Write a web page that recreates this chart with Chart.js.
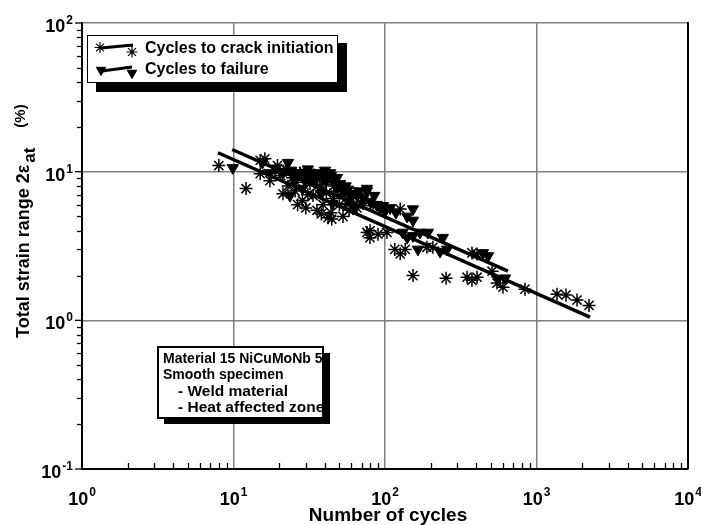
<!DOCTYPE html>
<html><head><meta charset="utf-8">
<script src="https://cdn.jsdelivr.net/npm/chart.js@4/dist/chart.umd.min.js"></script>
<style>html,body{margin:0;padding:0;background:#fff}canvas{display:block}</style>
</head><body>
<canvas id="c" width="701" height="525"></canvas>
<script>
// ---- data ----
const ciCycles = [8.0,12.1,15.0,16.1,15.0,17.4,18.8,20.5,21.2,22.9,24.5,25.5,27.5,28.5,30.5,30.0,32.0,33.5,35.6,37.2,40.2,42.1,44.5,45.4,48.2,52.8,56.1,60.0,65.3,70.0,83.4,76.0,79.6,79.6,89.9,103,116,126,136,126,153,189,207,253,348,375,405,375,405,509,549,601,839,1365,1566,1851,2222,
  19.5,22.0,26.0,29.0,31.0,34.0,36.0,39.0,41.0,46.0,50.0,54.0,58.0,44.0,38.0,26.5];
const ciStrain = [11.0,7.7,11.9,12.2,9.7,8.7,10.2,9.4,7.1,8.0,9.1,7.4,9.8,6.4,9.1,5.7,8.3,6.9,5.5,7.8,8.7,4.9,4.8,6.6,7.4,5.0,6.1,6.6,5.7,6.9,5.9,3.9,4.0,3.6,3.8,3.9,3.0,2.8,3.0,5.6,2.0,3.1,3.1,1.92,1.95,1.86,1.95,2.84,2.79,2.14,1.78,1.67,1.62,1.50,1.48,1.37,1.26,
  11.0,10.5,8.5,10.0,7.0,9.5,8.0,6.0,7.2,8.0,6.0,7.0,5.5,5.3,5.2,6.0];
const tfCycles = [9.9,15.5,17.4,21.2,22.9,23.6,25.5,27.5,29.6,30.5,32.0,34.5,35.6,37.2,40.2,42.1,43.4,45.4,48.2,50.5,52.8,58.7,61.5,65.3,71.6,63.4,76.0,76.0,85.0,92.7,108,140,153,153,131,140,153,170,165,192,241,231,257,443,479,557,620,28.5,38.0,45.0,
  19.0,24.0,26.5,31.0,33.5,39.0,41.0,44.0,47.0,55.0,57.0,67.0,72.0,80.0,88.0,97.0,100,118];
const tfStrain = [10.6,11.5,9.8,9.8,11.5,6.9,8.7,9.8,8.7,9.4,9.8,8.7,9.4,9.8,10.2,9.4,9.8,8.7,9.1,8.3,7.4,7.1,7.1,6.9,6.1,5.7,7.4,7.7,6.9,5.7,5.7,5.0,5.6,4.7,3.9,3.6,3.7,3.9,3.0,3.9,3.6,2.9,3.0,2.84,2.71,1.89,1.92,7.7,7.1,6.1,
  10.5,10.2,9.4,10.4,9.1,9.1,8.7,9.4,8.0,8.0,7.6,7.4,6.6,6.3,6.0,5.9,5.4,5.3];
const ciFitCycles = [7.9, 2255];
const ciFitStrain = [13.4, 1.05];
const tfFitCycles = [9.8, 648];
const tfFitStrain = [14.1, 2.14];
const xTickExponents = ['0','1','2','3','4'];
const yTickExponents = ['-1','0','1','2'];
const legendLabels = ['Cycles to crack initiation','Cycles to failure'];
const noteLines = ['Material 15 NiCuMoNb 5','Smooth specimen','- Weld material','- Heat affected zone'];
const xTitle = 'Number of cycles';
const yTitleMain = 'Total strain range 2\u03B5';
const yTitleSub = 'at';
const yTitleUnit = '(%)';

const FONT = '"Liberation Sans", Arial, Helvetica, sans-serif';
const pts = (xs, ys) => xs.map((x, i) => ({x, y: ys[i]}));
const isMajor = v => Math.abs(Math.log10(v) - Math.round(Math.log10(v))) < 1e-9;

function line(ctx, x1, y1, x2, y2){ ctx.beginPath(); ctx.moveTo(x1,y1); ctx.lineTo(x2,y2); ctx.stroke(); }

const deco = {
  id: 'deco',
  afterDraw(chart){
    const ctx = chart.ctx, xs = chart.scales.x, ys = chart.scales.y, a = chart.chartArea;
    const H = Chart.helpers;
    ctx.save();
    ctx.strokeStyle = '#000'; ctx.fillStyle = '#000';
    // right border
    ctx.lineWidth = 2;
    line(ctx, a.right, a.top - 1, a.right, a.bottom);
    // minor ticks
    ctx.lineWidth = 1.3;
    for (let d = 0; d < 4; d++) for (let m = 2; m <= 9; m++) {
      const px = Math.round(xs.getPixelForValue(m * Math.pow(10, d))) + 0.5;
      line(ctx, px, a.bottom, px, a.bottom - 6);
    }
    for (let d = -1; d < 2; d++) for (let m = 2; m <= 9; m++) {
      const py = Math.round(ys.getPixelForValue(m * Math.pow(10, d))) + 0.5;
      line(ctx, a.left - 5, py, a.left, py);
    }
    yTickExponents.forEach(e => {
      const py = ys.getPixelForValue(Math.pow(10, +e));
      line(ctx, a.left - 7, py, a.left, py);
    });
    // x tick labels
    ctx.textBaseline = 'alphabetic';
    xTickExponents.forEach(e => {
      const px = xs.getPixelForValue(Math.pow(10, +e));
      ctx.font = 'bold 18px ' + FONT; const w1 = ctx.measureText('10').width;
      ctx.font = 'bold 12px ' + FONT; const w2 = ctx.measureText(e).width;
      const x0 = px - (w1 + w2 + 1) / 2;
      ctx.font = 'bold 18px ' + FONT; ctx.textAlign = 'left';
      ctx.fillText('10', x0, a.bottom + 36);
      ctx.font = 'bold 12px ' + FONT;
      ctx.fillText(e, x0 + w1 + 1, a.bottom + 27);
    });
    // y tick labels
    yTickExponents.forEach(e => {
      const py = ys.getPixelForValue(Math.pow(10, +e));
      ctx.font = 'bold 12px ' + FONT; const w2 = ctx.measureText(e).width;
      ctx.font = 'bold 18px ' + FONT; const w1 = ctx.measureText('10').width;
      const xr = 73;
      ctx.textAlign = 'left';
      ctx.fillText('10', xr - w2 - 1 - w1, py + 9);
      ctx.font = 'bold 12px ' + FONT;
      ctx.fillText(e, xr - w2, py + 1);
    });
    // x title
    ctx.font = 'bold 19px ' + FONT; ctx.textAlign = 'center';
    ctx.fillText(xTitle, (a.left + a.right) / 2 + 3, 521);
    // y title (rotated)
    ctx.save();
    ctx.translate(29, 338); ctx.rotate(-Math.PI / 2);
    ctx.textAlign = 'left';
    ctx.font = 'bold 18px ' + FONT;
    const wm = ctx.measureText(yTitleMain).width;
    ctx.fillText(yTitleMain, 0, 0);
    ctx.font = 'bold 17px ' + FONT;
    const ws = ctx.measureText(yTitleSub).width;
    ctx.fillText(yTitleSub, wm + 2, 6);
    ctx.font = 'bold 15px ' + FONT;
    ctx.fillText(yTitleUnit, wm + ws + 22, -4);
    ctx.restore();

    // legend box with shadow
    ctx.fillStyle = '#000'; ctx.fillRect(96, 43, 251, 49);
    ctx.fillStyle = '#fff'; ctx.fillRect(87, 35, 250, 47);
    ctx.lineWidth = 1; ctx.strokeStyle = '#000';
    ctx.strokeRect(87.5, 35.5, 250, 47);
    ctx.fillStyle = '#000';
    ctx.lineWidth = 3;
    line(ctx, 101, 48, 133, 45);
    line(ctx, 102, 71, 132, 67);
    ctx.lineWidth = 1.2;
    H.drawPoint(ctx, {pointStyle: 'star', radius: 5.5, rotation: 0, borderWidth: 1.2}, 100, 47.5);
    H.drawPoint(ctx, {pointStyle: 'star', radius: 5.5, rotation: 0, borderWidth: 1.2}, 132, 52);
    ctx.lineWidth = 1;
    H.drawPoint(ctx, {pointStyle: 'triangle', radius: 5.5, rotation: 180, borderWidth: 1}, 101, 70);
    H.drawPoint(ctx, {pointStyle: 'triangle', radius: 5.5, rotation: 180, borderWidth: 1}, 132, 73);
    ctx.font = 'bold 16px ' + FONT; ctx.textAlign = 'left'; ctx.fillStyle = '#000';
    ctx.fillText(legendLabels[0], 145, 52.5);
    ctx.fillText(legendLabels[1], 145, 73.5);

    // note box
    ctx.fillStyle = '#000'; ctx.fillRect(164, 353, 166, 71);
    ctx.fillStyle = '#fff'; ctx.fillRect(158, 347, 165, 71);
    ctx.fillStyle = '#000'; ctx.font = 'bold 14px ' + FONT;
    ctx.fillText(noteLines[0], 163, 363);
    ctx.fillText(noteLines[1], 163, 379);
    ctx.font = 'bold 15.5px ' + FONT;
    ctx.fillText(noteLines[2], 178, 396);
    ctx.fillText(noteLines[3], 178, 412);
    ctx.lineWidth = 2; ctx.strokeStyle = '#000';
    ctx.strokeRect(158, 347, 165, 71);
    ctx.restore();
  }
};

new Chart(document.getElementById('c'), {
  type: 'scatter',
  data: {
    datasets: [
      { label: 'CI fit', data: pts(ciFitCycles, ciFitStrain), showLine: true, borderColor: '#000', borderWidth: 3.5, pointRadius: 0, fill: false },
      { label: 'TF fit', data: pts(tfFitCycles, tfFitStrain), showLine: true, borderColor: '#000', borderWidth: 3.5, pointRadius: 0, fill: false },
      { label: legendLabels[0], data: pts(ciCycles, ciStrain), pointStyle: 'star', pointRadius: 6.5, borderColor: '#000', backgroundColor: '#000', pointBorderWidth: 1.5 },
      { label: legendLabels[1], data: pts(tfCycles, tfStrain), pointStyle: 'triangle', pointRotation: 180, pointRadius: 6.5, borderColor: '#000', backgroundColor: '#000', pointBorderWidth: 1 }
    ]
  },
  options: {
    responsive: false, animation: false, devicePixelRatio: 1,
    layout: { padding: { left: 82, top: 23, right: 13, bottom: 56 } },
    plugins: { legend: { display: false }, tooltip: { enabled: false } },
    scales: {
      x: {
        type: 'logarithmic', min: 1, max: 10000,
        afterBuildTicks: s => { s.ticks = xTickExponents.map(e => ({ value: Math.pow(10, +e) })); },
        ticks: { display: false },
        grid: { color: c => (c.tick && isMajor(c.tick.value)) ? '#808080' : 'rgba(0,0,0,0)', lineWidth: 1.5, drawTicks: false },
        border: { color: '#000', width: 2 }
      },
      y: {
        type: 'logarithmic', min: 0.1, max: 100,
        afterBuildTicks: s => { s.ticks = yTickExponents.map(e => ({ value: Math.pow(10, +e) })); },
        ticks: { display: false },
        grid: { color: c => (c.tick && isMajor(c.tick.value)) ? '#808080' : 'rgba(0,0,0,0)', lineWidth: 1.5, drawTicks: false },
        border: { color: '#000', width: 2 }
      }
    }
  },
  plugins: [deco]
});
</script>
</body></html>
